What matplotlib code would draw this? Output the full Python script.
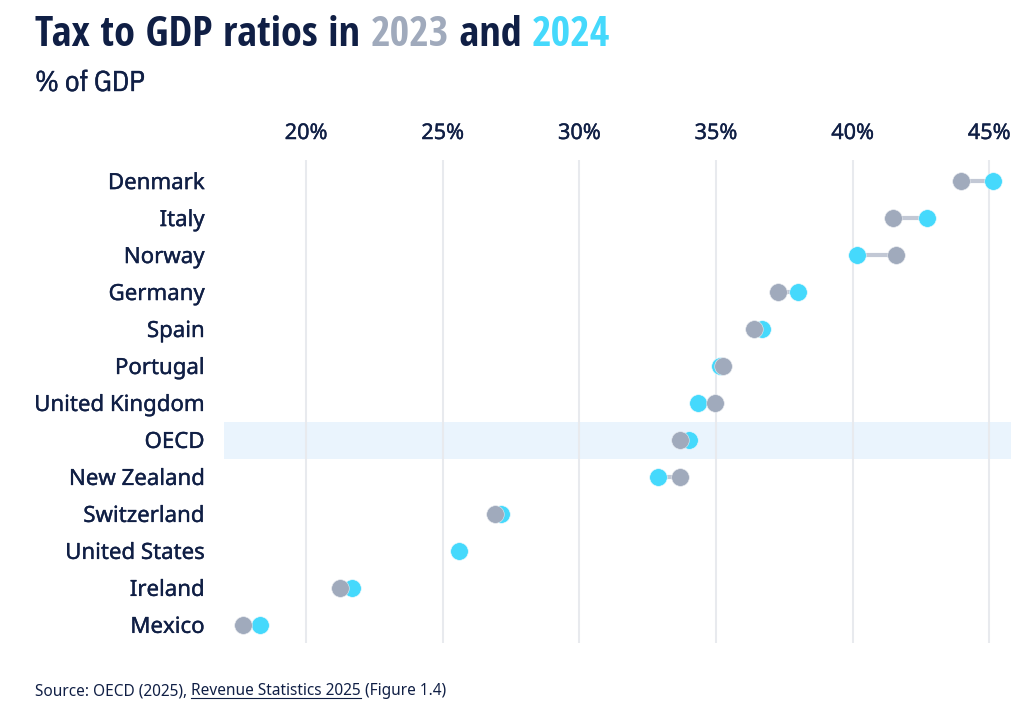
import numpy as np
import matplotlib
matplotlib.use('Agg')
import matplotlib.pyplot as plt
import matplotlib.patheffects as pe
from matplotlib import font_manager as fm

countries = ['Denmark', 'Italy', 'Norway', 'Germany', 'Spain', 'Portugal', 'United Kingdom',
             'OECD', 'New Zealand', 'Switzerland', 'United States', 'Ireland', 'Mexico']
values_2023 = [43.97, 41.5, 41.6, 37.28, 36.4, 35.26, 34.95, 33.7, 33.7, 26.9, np.nan, 21.26, 17.71]
values_2024 = [45.15, 42.73, 40.17, 38.0, 36.7, 35.15, 34.35, 34.0, 32.87, 27.14, 25.6, 21.68, 18.3]
x_ticks = [20, 25, 30, 35, 40, 45]

navy = '#101f45'
grey = '#a0aabc'
cyan = '#45d9fc'

names = {f.name for f in fm.fontManager.ttflist}
narrow = 'Open Sans Condensed' if 'Open Sans Condensed' in names else 'Liberation Sans'
narrow_regular = 'IBM Plex Sans Condensed' if 'IBM Plex Sans Condensed' in names else 'Liberation Sans'
plt.rcParams['font.family'] = 'Noto Sans'

W, H = 1011, 712
fig = plt.figure(figsize=(W / 100, H / 100), dpi=100)
ax = fig.add_axes([224 / W, 1 - 643 / H, 787 / W, 483 / H])

y = np.arange(len(countries))
ax.set_xlim(17.0, 45.8)
ax.set_ylim(12.49, -0.57)

ax.axhspan(6.52, 7.52, color='#eaf4fd', lw=0, zorder=0)
ax.vlines(x_ticks, 12.49, -0.57, color='#e8eaee', lw=1.5, zorder=1)
ax.hlines(y, values_2023, values_2024, color='#c2c8d5', lw=3, zorder=2)
ax.scatter(values_2024, y, s=160, color=cyan, edgecolor='#e8f8fd', lw=0.4, zorder=3)
ax.scatter(values_2023, y, s=160, color=grey, edgecolor='#e6e9ee', lw=0.4, zorder=4)

for side in ax.spines.values():
    side.set_visible(False)
ax.xaxis.tick_top()
ax.set_xticks(x_ticks)
ax.set_xticklabels([f'{t}%' for t in x_ticks], fontsize=15.6, color=navy)
ax.set_yticks(y)
ax.set_yticklabels(countries, fontsize=16, color=navy)
ax.tick_params(axis='x', length=0, pad=11.5)
ax.tick_params(axis='y', length=0, pad=14)

# the reference labels are a little heavier than the regular weight
heavier = [pe.withStroke(linewidth=0.25, foreground=navy)]
for label in ax.get_xticklabels() + ax.get_yticklabels():
    label.set_path_effects(heavier)


def text_run(x, y_px, parts, **kw):
    # places pieces of text one after the other, returns their pixel extents
    renderer = fig.canvas.get_renderer()
    boxes = []
    for s, col in parts:
        t = fig.text(x / W, 1 - y_px / H, s, color=col, va='baseline', ha='left', **kw)
        box = t.get_window_extent(renderer)
        boxes.append((x, box.width))
        x = x + box.width
    return boxes


text_run(35, 46, [('Tax to GDP ratios in ', navy), ('2023', grey), (' and ', navy), ('2024', cyan)],
         family=narrow, weight='bold', fontsize=30.5)
text_run(35, 91, [('% of GDP', navy)], family=narrow_regular, fontsize=20.6,
         path_effects=[pe.withStroke(linewidth=0.3, foreground=navy)])

boxes = text_run(35, 695, [('Source: OECD (2025), ', navy), ('Revenue Statistics 2025', navy),
                           (' (Figure 1.4)', navy)], fontsize=11.1)
x0, w = boxes[1]
fig.add_artist(plt.Line2D([x0 / W, (x0 + w) / W], [1 - 698 / H] * 2, color=navy, lw=0.8))

fig.savefig('out.png', dpi=100)
